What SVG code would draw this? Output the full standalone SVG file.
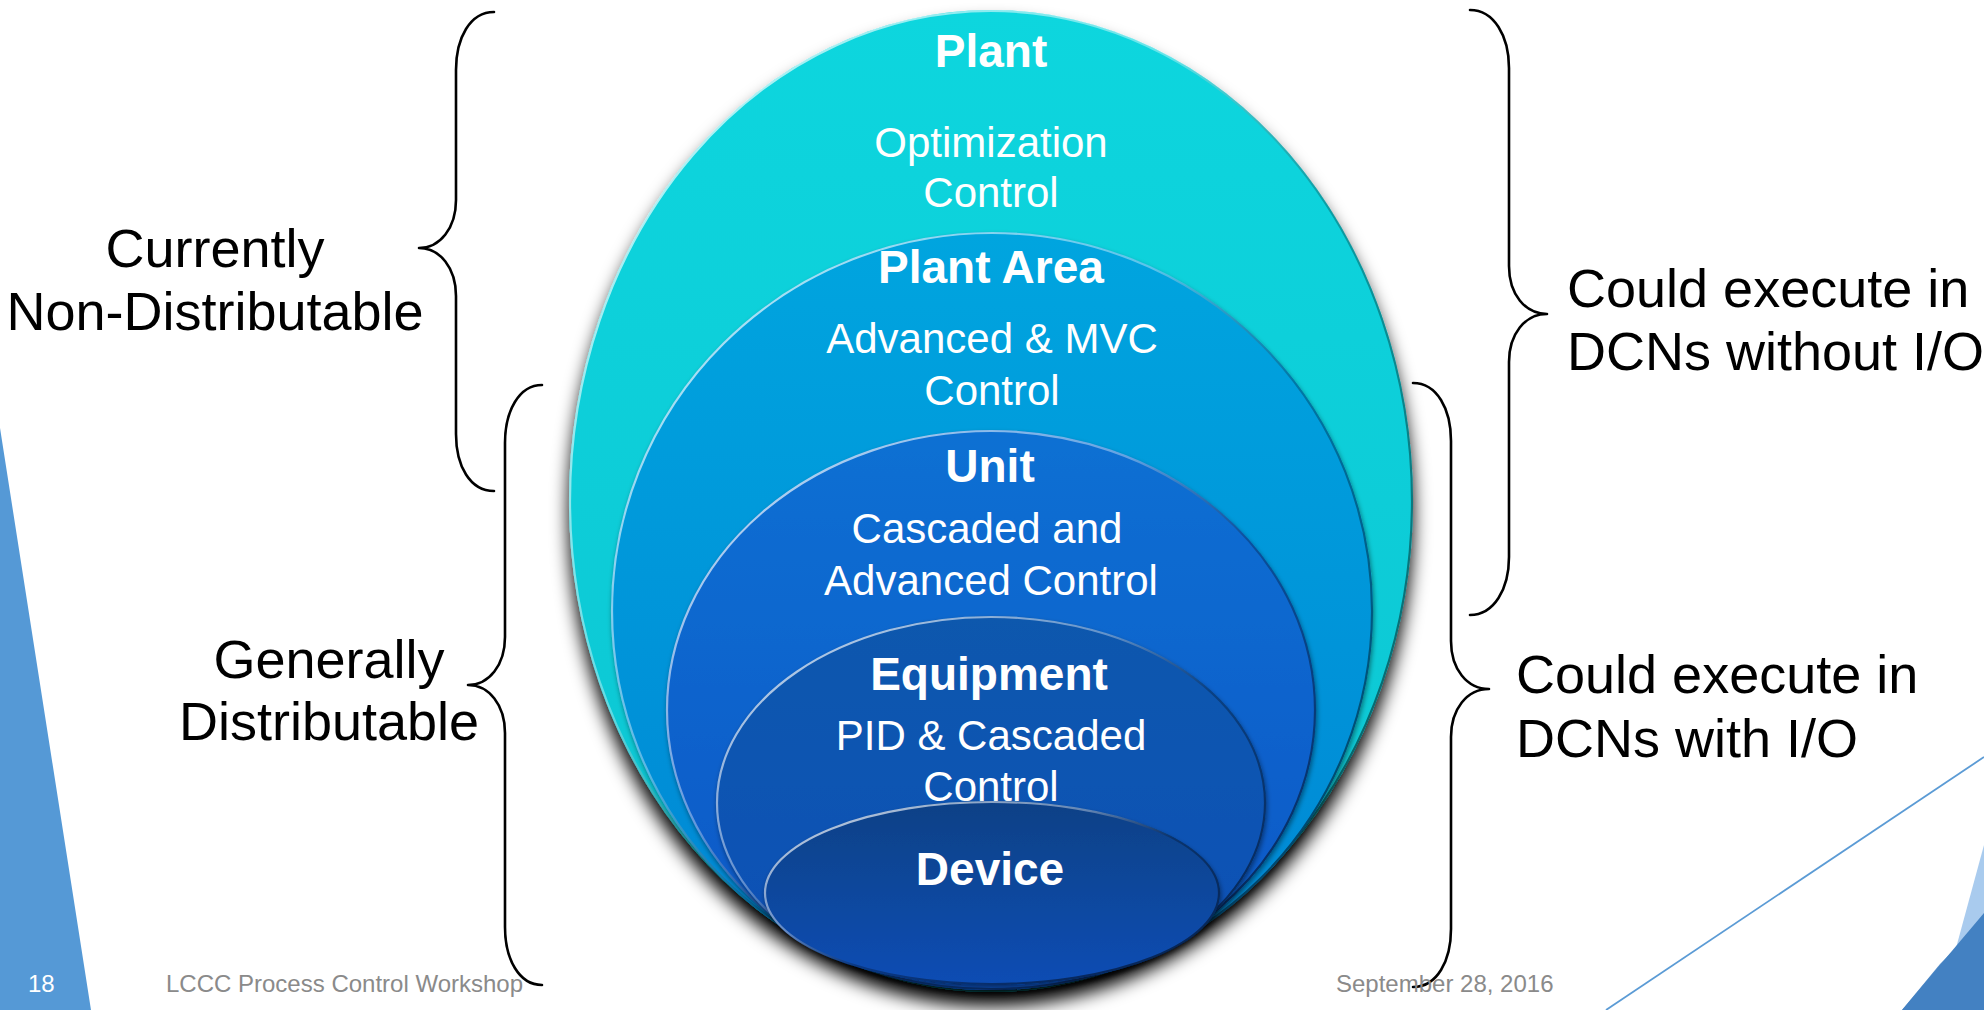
<svg xmlns="http://www.w3.org/2000/svg" width="1984" height="1010" viewBox="0 0 1984 1010">
<style>
.lbl{font-family:"Liberation Sans",Arial,sans-serif;font-size:54px;fill:#000}
.t{font-family:"Liberation Sans",Arial,sans-serif;font-size:42px;fill:#fff;text-anchor:middle}
.h{font-family:"Liberation Sans",Arial,sans-serif;font-size:46px;font-weight:bold;fill:#fff;text-anchor:middle}
.ft{font-family:"Liberation Sans",Arial,sans-serif;font-size:24px;fill:#8a8a8a}
.brace{fill:none;stroke:#000;stroke-width:2.6;stroke-linecap:round;stroke-linejoin:round}
.rim{stroke:url(#rim);stroke-width:2.2}
</style>
<defs>
<linearGradient id="gPlant" x1="0" y1="0" x2="0" y2="1"><stop offset="0" stop-color="#0fd6de"/><stop offset="1" stop-color="#07c4d2"/></linearGradient>
<linearGradient id="gArea" x1="0" y1="0" x2="0" y2="1"><stop offset="0" stop-color="#06a5df"/><stop offset="1" stop-color="#0586d4"/></linearGradient>
<linearGradient id="gUnit" x1="0" y1="0" x2="0" y2="1"><stop offset="0" stop-color="#0f70d3"/><stop offset="1" stop-color="#0a56c6"/></linearGradient>
<linearGradient id="gEquip" x1="0" y1="0" x2="0" y2="1"><stop offset="0" stop-color="#0b58ad"/><stop offset="1" stop-color="#0a4fb8"/></linearGradient>
<linearGradient id="gDev" x1="0" y1="0" x2="0" y2="1"><stop offset="0" stop-color="#0a4186"/><stop offset="1" stop-color="#0a4db4"/></linearGradient>
<linearGradient id="rim" x1="0" y1="0" x2="1" y2="1"><stop offset="0" stop-color="#ffffff" stop-opacity="0.85"/><stop offset="0.38" stop-color="#ffffff" stop-opacity="0.35"/><stop offset="0.55" stop-color="#000000" stop-opacity="0.25"/><stop offset="1" stop-color="#000000" stop-opacity="0.6"/></linearGradient>
<filter id="bigShadow" x="-10%" y="-10%" width="120%" height="125%">
<feGaussianBlur in="SourceAlpha" stdDeviation="9"/><feOffset dx="0" dy="14" result="b"/>
<feFlood flood-color="#000" flood-opacity="1"/><feComposite in2="b" operator="in"/>
<feMerge><feMergeNode/><feMergeNode in="SourceGraphic"/></feMerge>
</filter>
<filter id="smallShadow" x="-10%" y="-10%" width="120%" height="125%">
<feGaussianBlur in="SourceAlpha" stdDeviation="2.5"/><feOffset dx="1" dy="3" result="b"/>
<feFlood flood-color="#000" flood-opacity="0.45"/><feComposite in2="b" operator="in"/>
<feMerge><feMergeNode/><feMergeNode in="SourceGraphic"/></feMerge>
</filter>
</defs>
<rect width="1984" height="1010" fill="#fff"/>
<g id="decor">
<polygon points="0,428 91,1010 0,1010" fill="#5599d6"/>
<line x1="1606" y1="1010" x2="1984" y2="757" stroke="#5b9bd5" stroke-width="1.8"/>
<polygon points="1984,845 1956,948 1940,1010 1984,1010" fill="#a9cbee"/>
<polygon points="1957,947 1930,1010 1902,1010 1940,964" fill="#5f93cb"/>
<polygon points="1984,913 1902,1010 1984,1010" fill="#4381c2"/>
</g>
<g id="node-plant">
<ellipse cx="991" cy="501" rx="422" ry="491" fill="url(#gPlant)" filter="url(#bigShadow)"/>
<ellipse cx="991" cy="501" rx="421" ry="490" fill="none" class="rim"/>
<text class="h" x="991" y="67">Plant</text>
<text class="t" x="991" y="157">Optimization</text>
<text class="t" x="991" y="207">Control</text>
</g>
<g id="node-plant-area">
<ellipse cx="992" cy="611" rx="381" ry="379" fill="url(#gArea)" filter="url(#smallShadow)"/>
<ellipse cx="992" cy="611" rx="380" ry="378" fill="none" class="rim"/>
<text class="h" x="991" y="283">Plant Area</text>
<text class="t" x="992" y="353">Advanced &amp; MVC</text>
<text class="t" x="992" y="405">Control</text>
</g>
<g id="node-unit">
<ellipse cx="991" cy="710" rx="325" ry="280" fill="url(#gUnit)" filter="url(#smallShadow)"/>
<ellipse cx="991" cy="710" rx="324" ry="279" fill="none" class="rim"/>
<text class="h" x="990" y="482">Unit</text>
<text class="t" x="987" y="543">Cascaded and</text>
<text class="t" x="991" y="595">Advanced Control</text>
</g>
<g id="node-equipment">
<ellipse cx="991" cy="803" rx="275" ry="187" fill="url(#gEquip)" filter="url(#smallShadow)"/>
<ellipse cx="991" cy="803" rx="274" ry="186" fill="none" class="rim"/>
<text class="h" x="989" y="690">Equipment</text>
<text class="t" x="991" y="750">PID &amp; Cascaded</text>
<text class="t" x="991" y="801">Control</text>
</g>
<g id="node-device">
<ellipse cx="992" cy="893" rx="228" ry="92" fill="url(#gDev)" filter="url(#smallShadow)"/>
<ellipse cx="992" cy="893" rx="227" ry="91" fill="none" class="rim"/>
<text class="h" x="990" y="885">Device</text>
</g>
<g id="connectors">
<path class="brace" d="M494,12 C470,12 456,38 456,70 L456,200 C456,228 440,248 419,248 C440,248 456,268 456,296 L456,434 C456,466 470,491 494,491"/>
<path class="brace" d="M542,385 C519,385 505,411 505,443 L505,637 C505,665 489,685 468,685 C489,685 505,705 505,733 L505,927 C505,959 519,985 542,985"/>
<path class="brace" d="M1470,10 C1494,10 1509,36 1509,68 L1509,266 C1509,294 1525,314 1547,314 C1525,314 1509,334 1509,362 L1509,557 C1509,589 1494,615 1470,615"/>
<path class="brace" d="M1413,383 C1437,383 1451,409 1451,441 L1451,641 C1451,669 1467,689 1489,689 C1467,689 1451,709 1451,737 L1451,929 C1451,961 1437,987 1413,987"/>
</g>
<g id="labels">
<text class="lbl" x="215" y="267" text-anchor="middle">Currently</text>
<text class="lbl" x="215" y="330" text-anchor="middle">Non-Distributable</text>
<text class="lbl" x="329" y="678" text-anchor="middle">Generally</text>
<text class="lbl" x="329" y="740" text-anchor="middle">Distributable</text>
<text class="lbl" x="1567" y="307">Could execute in</text>
<text class="lbl" x="1567" y="370">DCNs without I/O</text>
<text class="lbl" x="1516" y="693">Could execute in</text>
<text class="lbl" x="1516" y="757">DCNs with I/O</text>
</g>
<g id="footer">
<text class="ft" x="28" y="992" style="fill:#fff">18</text>
<text class="ft" x="166" y="992">LCCC Process Control Workshop</text>
<text class="ft" x="1336" y="992">September 28, 2016</text>
</g>
</svg>
